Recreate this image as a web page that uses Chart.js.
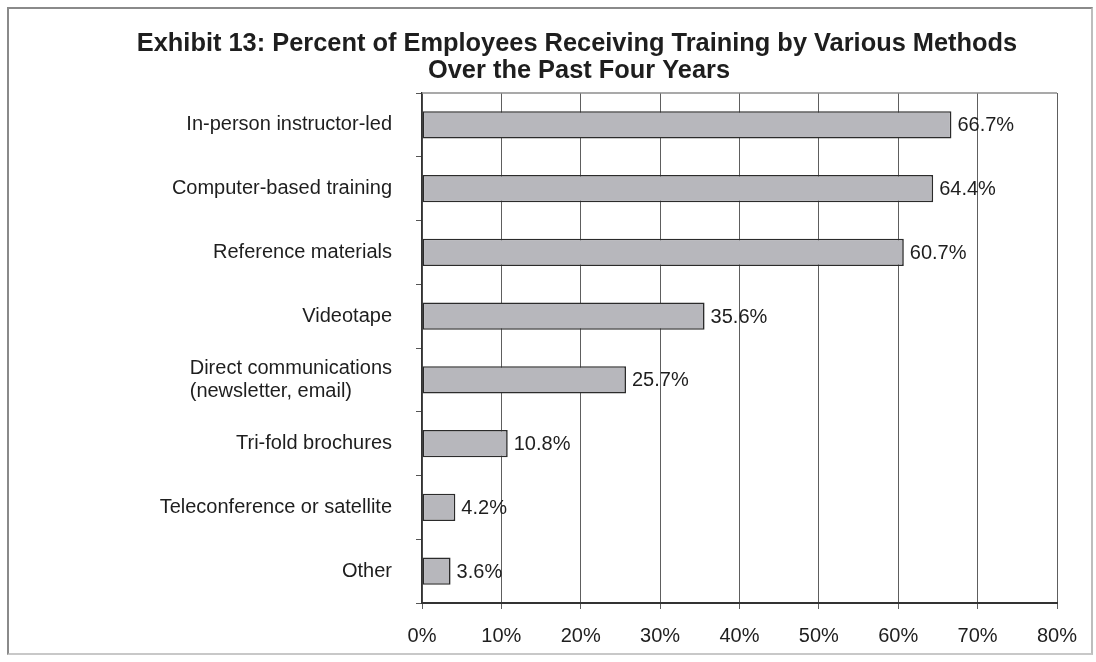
<!DOCTYPE html>
<html lang="en">
<head>
<meta charset="UTF-8">
<title>Exhibit 13</title>
<script src="https://cdn.jsdelivr.net/npm/chart.js@4/dist/chart.umd.min.js"></script>
<style>
  html, body { margin: 0; padding: 0; background: #fff; }
  #wrap { position: relative; width: 1096px; height: 662px; }
  #frame { position: absolute; left: 7px; top: 7px; width: 1082px; height: 644px;
           border: 2px solid #8a8a8a; border-bottom-color: #c8c8c8; border-right-color: #bdbdbd; }
  canvas { position: absolute; left: 0; top: 0; }
</style>
</head>
<body>
<div id="wrap">
  <div id="frame"></div>
  <canvas id="chart" width="1096" height="662"></canvas>
</div>

<script>
const titleLines = ['Exhibit 13: Percent of Employees Receiving Training by Various Methods',
                    'Over the Past Four Years'];

const methods = [
  ['In-person instructor-led'],
  ['Computer-based training'],
  ['Reference materials'],
  ['Videotape'],
  ['Direct communications', '(newsletter, email)'],
  ['Tri-fold brochures'],
  ['Teleconference or satellite'],
  ['Other']
];
const percents = [66.7, 64.4, 60.7, 35.6, 25.7, 10.8, 4.2, 3.6];

const axisMin = 0, axisMax = 80, axisStep = 10;

const FONT = '"Liberation Sans", Arial, sans-serif';
const INK = '#1e1e1e';

// title, two centred bold lines
const titlePlugin = {
  id: 'exhibitTitle',
  afterDraw(chart) {
    const ctx = chart.ctx;
    ctx.save();
    ctx.fillStyle = INK;
    ctx.font = 'bold 25.4px ' + FONT;
    ctx.textAlign = 'center';
    ctx.textBaseline = 'alphabetic';
    ctx.fillText(titleLines[0], 577, 51);
    ctx.fillText(titleLines[1], 579, 78);
    ctx.restore();
  }
};

// category names left of the axis; wrapped names stay left aligned as a block
const methodLabels = {
  id: 'methodLabels',
  afterDraw(chart) {
    const ctx = chart.ctx;
    const y = chart.scales.y;
    const right = chart.chartArea.left - 30;
    ctx.save();
    ctx.fillStyle = INK;
    ctx.font = '20px ' + FONT;
    ctx.textBaseline = 'middle';
    ctx.textAlign = 'left';
    methods.forEach((lines, i) => {
      const cy = y.getPixelForValue(i);
      const w = Math.max(...lines.map(l => ctx.measureText(l).width));
      const lh = 23;
      const top = cy - (lines.length - 1) * lh / 2;
      lines.forEach((l, j) => ctx.fillText(l, right - w, top + j * lh));
    });
    ctx.restore();
  }
};

// value at the end of each bar + top border of the plot box
const valueLabels = {
  id: 'valueLabels',
  beforeDatasetsDraw(chart) {
    const { ctx, chartArea: a } = chart;
    ctx.save();
    ctx.strokeStyle = '#8c8c8c';
    ctx.lineWidth = 1.5;
    ctx.beginPath();
    ctx.moveTo(a.left, a.top);
    ctx.lineTo(a.right, a.top);
    ctx.stroke();
    ctx.restore();
  },
  afterDatasetsDraw(chart) {
    const ctx = chart.ctx;
    const meta = chart.getDatasetMeta(0);
    ctx.save();
    ctx.fillStyle = INK;
    ctx.font = '20px ' + FONT;
    ctx.textAlign = 'left';
    ctx.textBaseline = 'middle';
    meta.data.forEach((bar, i) => {
      ctx.fillText(percents[i].toFixed(1) + '%', bar.x + 6, bar.y + 1);
    });
    ctx.restore();
  }
};

new Chart(document.getElementById('chart'), {
  type: 'bar',
  data: {
    labels: methods.map(m => m.join(' ')),
    datasets: [{
      data: percents,
      backgroundColor: '#b7b7bc',
      borderColor: '#2b2b2b',
      borderWidth: 1.6,
      borderSkipped: false,
      categoryPercentage: 1,
      barPercentage: 0.43
    }]
  },
  options: {
    indexAxis: 'y',
    responsive: false,
    animation: false,
    events: [],
    layout: { padding: { top: 93, right: 39, left: 0, bottom: 0 } },
    plugins: {
      legend: { display: false },
      title: { display: false },
      tooltip: { enabled: false }
    },
    scales: {
      x: {
        min: axisMin,
        max: axisMax,
        afterFit(scale) { scale.height = 59; },
        ticks: {
          stepSize: axisStep,
          color: INK,
          font: { family: FONT, size: 20 },
          padding: 15,
          callback: v => v + '%'
        },
        grid: { color: '#5e5e5e', lineWidth: 1, tickLength: 6 },
        border: { color: '#333', width: 2 }
      },
      y: {
        afterFit(scale) { scale.width = 422; },
        ticks: { display: false },
        grid: { offset: true, drawOnChartArea: false, tickLength: 6, color: '#555' },
        border: { color: '#333', width: 1.5 }
      }
    }
  },
  plugins: [titlePlugin, methodLabels, valueLabels]
});
</script>
</body>
</html>
